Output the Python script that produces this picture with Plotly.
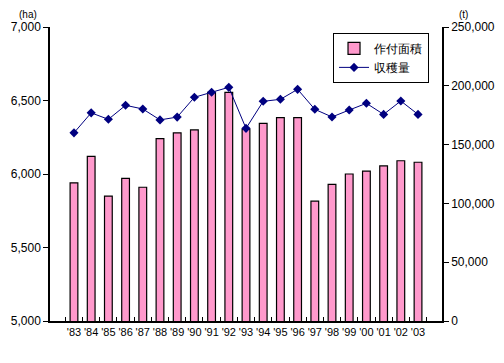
import plotly.graph_objects as go

years = ["'83", "'84", "'85", "'86", "'87", "'88", "'89", "'90", "'91", "'92", "'93",
         "'94", "'95", "'96", "'97", "'98", "'99", "'00", "'01", "'02", "'03"]
area_ha = [5940, 6120, 5850, 5970, 5910, 6240, 6280, 6300, 6555, 6555, 6305,
           6345, 6383, 6383, 5815, 5930, 6000, 6020, 6055, 6090, 6080]
harvest_t = [160000, 177000, 171500, 183400, 180300, 171000, 173400, 190200, 194500, 198700, 163800,
             186800, 188500, 197000, 180000, 173500, 179400, 185100, 175700, 187100, 175700]

font = "Liberation Sans, Arial, sans-serif"

fig = go.Figure()
fig.add_trace(go.Bar(
    x=years, y=area_ha, name="作付面積",
    marker=dict(color="#FF99CC", line=dict(color="black", width=1.2)),
    yaxis="y",
))
fig.add_trace(go.Scatter(
    x=years, y=harvest_t, name="収穫量", mode="lines+markers",
    line=dict(color="#000080", width=1),
    marker=dict(symbol="diamond", size=7, color="#000080"),
    yaxis="y2",
))

fig.update_layout(
    width=496, height=355,
    margin=dict(l=42, r=62, t=19, b=42),
    paper_bgcolor="white", plot_bgcolor="white",
    font=dict(family=font, size=11, color="black"),
    bargap=0.55,
    showlegend=True,
    legend=dict(x=0.722, y=0.98, xanchor="left", yanchor="top",
                bordercolor="black", borderwidth=1, bgcolor="white",
                font=dict(size=12), itemwidth=30, tracegroupgap=0),
    xaxis=dict(type="category", showline=True, linecolor="black", linewidth=1.5,
               ticks="inside", tickson="boundaries", ticklen=4, tickcolor="black",
               showgrid=False, tickfont=dict(size=11), tickangle=0,
               automargin=False),
    yaxis=dict(range=[5000, 7000], tickvals=[5000, 5500, 6000, 6500, 7000],
               tickformat=",", showline=True, linecolor="black", linewidth=1.5,
               ticks="outside", ticklen=5, tickcolor="black", showgrid=False,
               zeroline=False, tickfont=dict(size=12), automargin=False),
    yaxis2=dict(range=[0, 250000], tickvals=[0, 50000, 100000, 150000, 200000, 250000],
                tickformat=",", overlaying="y", side="right", showline=True,
                linecolor="black", linewidth=1.5, ticks="outside", ticklen=5,
                tickcolor="black", showgrid=False, zeroline=False,
                tickfont=dict(size=12), automargin=False),
    annotations=[
        dict(text="(ha)", xref="paper", yref="paper", x=-0.056, y=1.0, yshift=13,
             showarrow=False, font=dict(size=10), xanchor="center", yanchor="middle"),
        dict(text="(t)", xref="paper", yref="paper", x=1.054, y=1.0, yshift=13,
             showarrow=False, font=dict(size=10), xanchor="center", yanchor="middle"),
    ],
)

fig.write_html("out.html")
